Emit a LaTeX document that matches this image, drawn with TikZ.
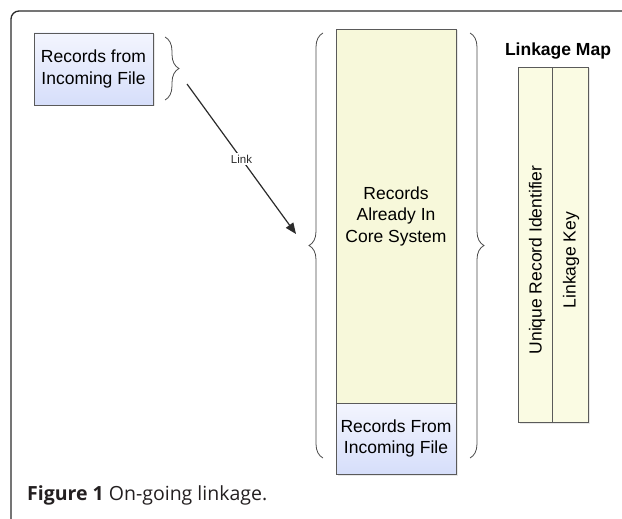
\documentclass[tikz,border=0pt]{standalone}
\usepackage{fontspec}
\setmainfont{Liberation Sans}
\newfontfamily\capfont{Open Sans}
\usetikzlibrary{arrows.meta,decorations.pathreplacing,shadows}
\definecolor{framegray}{HTML}{2B2B2B}
\definecolor{boxline}{HTML}{5A5A5A}
\definecolor{braceline}{HTML}{4A4A4A}
\definecolor{bluetop}{HTML}{F3F5FE}
\definecolor{bluebot}{HTML}{D6DEFA}
\definecolor{coreyellow}{HTML}{F7F8DA}
\definecolor{mapyellow}{HTML}{FAFBE3}
\definecolor{capgray}{HTML}{231F20}
\tikzstyle{txt}=[font=\fontsize{17.5}{21.5}\selectfont, align=center, inner sep=0pt]
\tikzstyle{shd}=[drop shadow={opacity=0.18, shadow xshift=1.5pt, shadow yshift=-1.5pt}]
\tikzstyle{bbox}=[draw=boxline, line width=0.9pt, top color=bluetop, bottom color=bluebot, txt, shd]
\tikzstyle{ybox}=[draw=boxline, line width=0.9pt, fill=coreyellow, txt, shd]
\tikzstyle{mbox}=[draw=boxline, line width=0.9pt, fill=mapyellow, shd, inner sep=0pt]
\tikzstyle{brc}=[decorate, decoration={brace, amplitude=14pt}, draw=braceline, line width=0.8pt]

\begin{document}
\begin{tikzpicture}[x=1pt, y=-1pt]
\useasboundingbox (0, 0) rectangle (622, 519);

% frame, cut at the right and bottom
\draw [framegray, line width=1.3pt, rounded corners=8pt] (11, 519) -- (11, 11) -- (622, 11);

% incoming records
\draw (93.5, 69) node (inbox) [bbox, minimum width=119pt, minimum height=72pt] {Records from\\Incoming File};
\draw [brc] (165, 37) -- (165, 100);

% core system
\draw (396, 216) node (core) [ybox, minimum width=120pt, minimum height=374pt] {Records\\Already In\\Core System};
\draw (396, 438.5) node (newrec) [bbox, minimum width=120pt, minimum height=71pt] {Records From\\Incoming File};
\draw [brc] (323, 458) -- (323, 33);
\draw [brc] (470, 33) -- (470, 458);

% link
\coordinate (linkfrom) at (187, 84);
\coordinate (linkto) at (296, 234);
\draw [-{Triangle[length=11pt, width=9pt]}, color=framegray, line width=1.2pt] (linkfrom) -- node (link) [fill=white, inner sep=1.5pt, font=\fontsize{11.5}{13}\selectfont] {Link} (linkto);

% linkage map
\draw (558, 51) node (maptitle) [font=\bfseries\fontsize{17.5}{21}\selectfont] {Linkage Map};
\draw (535, 244.5) node (uid) [mbox, minimum width=34pt, minimum height=355pt] {};
\draw (570, 244.5) node (lkey) [mbox, minimum width=36pt, minimum height=355pt] {};
\draw (537, 260) node (uidtext) [txt, rotate=90] {Unique Record Identifier};
\draw (571, 260) node (lkeytext) [txt, rotate=90] {Linkage Key};

% caption
\draw (27, 500) node (caption) [anchor=base west, inner sep=0pt, color=capgray, font=\capfont\fontsize{19.5}{23}\selectfont] {\textbf{Figure 1} On-going linkage.};

\end{tikzpicture}
\end{document}
